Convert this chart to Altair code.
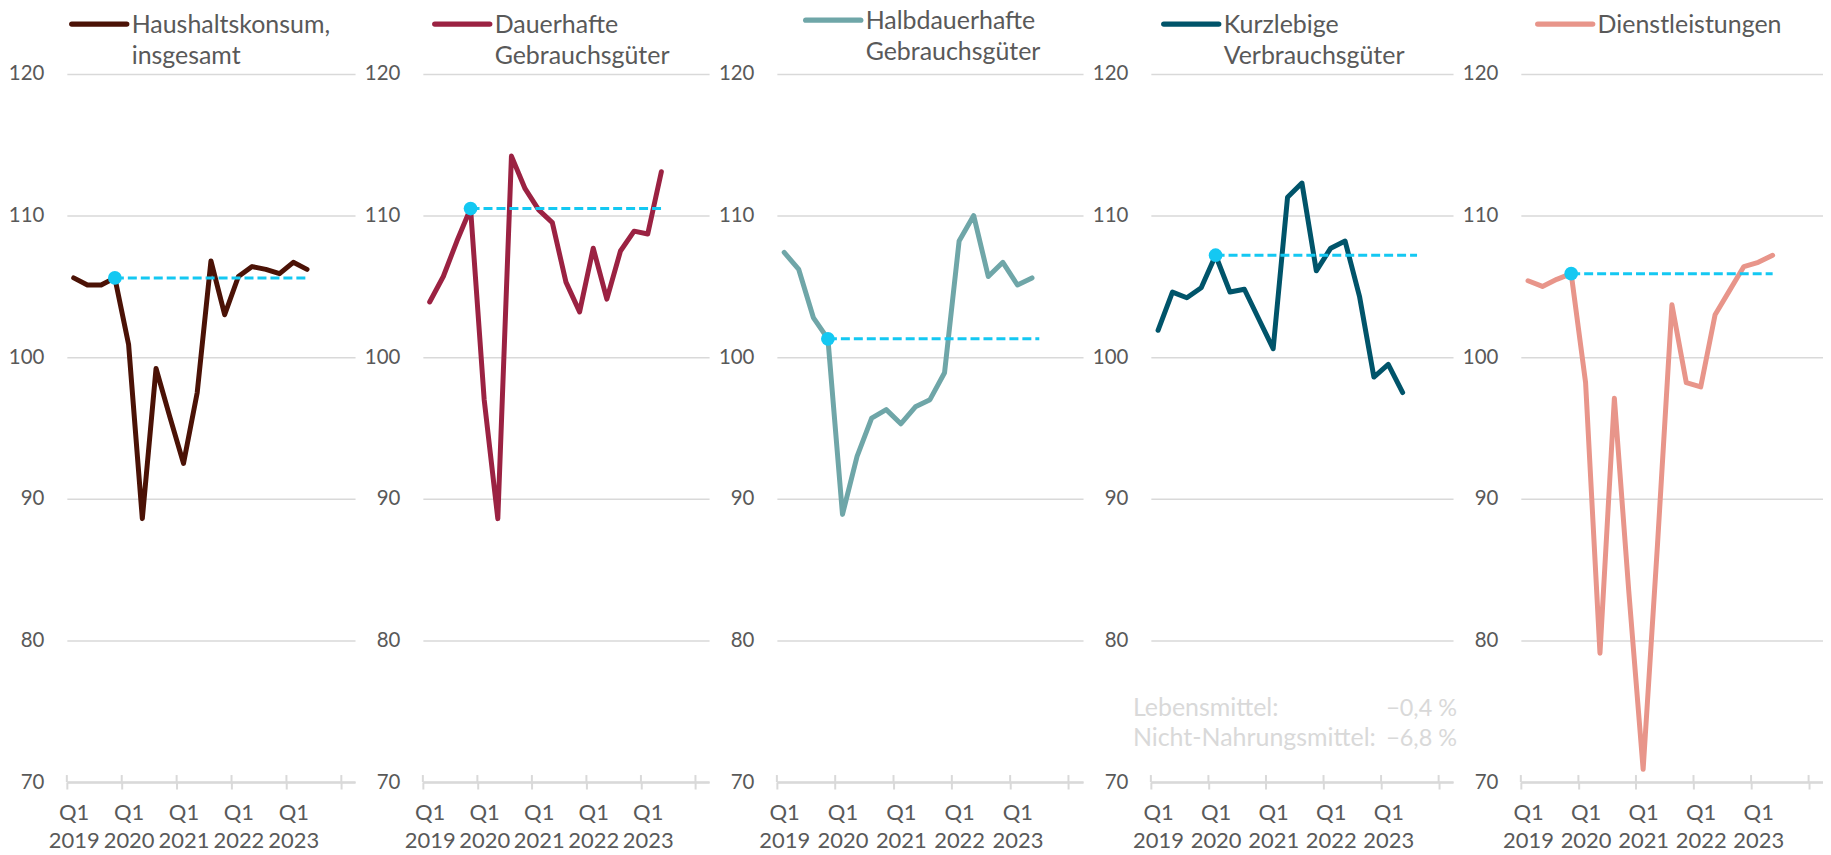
import altair as alt
import pandas as pd

# ---------------- data ----------------
quarters = ["Q1 2019", "Q2 2019", "Q3 2019", "Q4 2019",
            "Q1 2020", "Q2 2020", "Q3 2020", "Q4 2020",
            "Q1 2021", "Q2 2021", "Q3 2021", "Q4 2021",
            "Q1 2022", "Q2 2022", "Q3 2022", "Q4 2022",
            "Q1 2023", "Q2 2023", "Q3 2023", "Q4 2023",
            "Q1 2024"]
year_labels = ["2019", "2020", "2021", "2022", "2023"]
tick_positions = [0, 4, 8, 12, 16, 20]

names = [["Haushaltskonsum,", "insgesamt"],
         ["Dauerhafte", "Gebrauchsgüter"],
         ["Halbdauerhafte", "Gebrauchsgüter"],
         ["Kurzlebige", "Verbrauchsgüter"],
         ["Dienstleistungen"]]
colors = ["#4B1206", "#9B2242", "#6FA6A8", "#00546A", "#E8958A"]

haushalt = [105.6, 105.1, 105.1, 105.6, 100.9, 88.6, 99.2, 95.8, 92.5,
            97.5, 106.8, 103.0, 105.7, 106.4, 106.2, 105.9, 106.7, 106.2]
dauerhaft = [103.9, 105.7, 108.2, 110.5, 97.0, 88.6, 114.2, 111.9, 110.4,
             109.5, 105.3, 103.2, 107.7, 104.1, 107.5, 108.9, 108.7, 113.1]
halbdauer = [107.4, 106.2, 102.8, 101.3, 88.9, 93.0, 95.7, 96.3, 95.3,
             96.5, 97.0, 98.9, 108.2, 110.0, 105.7, 106.7, 105.1, 105.6]
kurzlebig = [101.9, 104.6, 104.2, 104.9, 107.2, 104.6, 104.8, 102.7, 100.6,
             111.3, 112.3, 106.1, 107.7, 108.2, 104.3, 98.6, 99.5, 97.5]
dienst = [105.4, 105.0, 105.5, 105.9, 98.2, 79.1, 97.1, 83.5, 70.9,
          86.8, 103.7, 98.2, 97.9, 103.0, 104.7, 106.4, 106.7, 107.2]
series = [haushalt, dauerhaft, halbdauer, kurzlebig, dienst]

ref_start = [3, 3, 3, 4, 3]          # quarter index of the reference point
ref_end = [17, 17, 17.5, 18, 17]     # end of the dashed reference line

note_left = ["Lebensmittel:", "Nicht-Nahrungsmittel:"]
note_right = ["\u22120,4 %", "\u22126,8 %"]

# ---------------- styles ----------------
GRID = "#D9D9D9"
TXT = "#595959"
REF = "#14C8F2"
FONT = "Lato"
widths = [289, 287, 307, 303, 303]
H = 710
legend_x = [5, 12, 29, 13, 17]
legend_dy = [0, 0, -4, 0, 0]

label_expr = ("datum.value < 20 ? ['Q1', [" +
              ",".join("'%s'" % y for y in year_labels) +
              "][datum.value / 4]] : ''")


def panel(i):
    W = widths[i]
    vals = series[i]
    df = pd.DataFrame({"pos": [k + 0.5 for k in range(len(vals))],
                       "value": vals,
                       "quarter": quarters[:len(vals)]})
    xscale = alt.Scale(domain=[0, 21], nice=False, zero=False)
    yscale = alt.Scale(domain=[70, 120], nice=False, zero=False)
    xaxis = alt.Axis(values=tick_positions, labelExpr=label_expr,
                     labelOffset=W / 21 / 2, labelFlush=False,
                     labelOverlap=False, grid=False, domainColor=GRID,
                     domainWidth=2.5, tickColor=GRID, tickWidth=2,
                     tickSize=7, labelPadding=14, labelLineHeight=28,
                     labelFontSize=22, labelColor=TXT, labelFont=FONT,
                     labelBaseline="top", title=None)
    yaxis = alt.Axis(values=[70, 80, 90, 100, 110, 120], grid=True,
                     gridColor=GRID, gridWidth=1.5, domain=False,
                     ticks=False, tickSize=0, labelPadding=23,
                     labelFontSize=20.5, labelColor=TXT, labelFont=FONT,
                     title=None)

    def X(field):
        return alt.X(field, type="quantitative", scale=xscale, axis=xaxis)

    def Y(field):
        return alt.Y(field, type="quantitative", scale=yscale, axis=yaxis)

    line = alt.Chart(df).mark_line(
        color=colors[i], strokeWidth=5, strokeJoin="round", strokeCap="round"
    ).encode(x=X("pos"), y=Y("value"))

    ref_df = pd.DataFrame({"x": [ref_start[i] + 0.5], "x2": [ref_end[i] + 0.5],
                           "y": [vals[ref_start[i]]]})
    ref = alt.Chart(ref_df).mark_rule(
        color=REF, strokeWidth=3, strokeDash=[9, 4]
    ).encode(x=X("x"), x2="x2", y=Y("y"))
    dot = alt.Chart(ref_df).mark_circle(
        color=REF, size=190, opacity=1
    ).encode(x=X("x"), y=Y("y"))

    ticks_df = pd.DataFrame({"t": tick_positions})
    upticks = alt.Chart(ticks_df).mark_rule(
        color=GRID, strokeWidth=2
    ).encode(x=X("t"), y=alt.value(H), y2=alt.value(H - 7))

    leg_df = pd.DataFrame({"label": [names[i]]})
    lx = legend_x[i]
    dy = legend_dy[i]
    sym = alt.Chart(leg_df).mark_rule(
        color=colors[i], strokeWidth=5.5, strokeCap="round"
    ).encode(x=alt.value(lx), x2=alt.value(lx + 55), y=alt.value(-50 + dy))
    txt = alt.Chart(leg_df).mark_text(
        align="left", baseline="alphabetic", fontSize=25, font=FONT,
        color=TXT, lineHeight=31
    ).encode(x=alt.value(lx + 60), y=alt.value(-41 + dy), text="label:N")

    layers = [upticks, line, ref, dot, sym, txt]

    if i == 3:
        nl = pd.DataFrame({"label": [note_left]})
        nr = pd.DataFrame({"label": [note_right]})
        t1 = alt.Chart(nl).mark_text(
            align="left", baseline="alphabetic", fontSize=25, font=FONT,
            color=GRID, lineHeight=30
        ).encode(x=alt.value(-18), y=alt.value(644), text="label:N")
        t2 = alt.Chart(nr).mark_text(
            align="right", baseline="alphabetic", fontSize=23.5, font=FONT,
            color=GRID, lineHeight=30
        ).encode(x=alt.value(W + 4), y=alt.value(644), text="label:N")
        layers += [t1, t2]

    return alt.layer(*layers).properties(width=W, height=H)


chart = alt.hconcat(
    *[panel(i) for i in range(5)], spacing=68, bounds="flush"
).configure(
    font=FONT, view=alt.ViewConfig(stroke=None)
).properties(
    padding={"left": 0, "top": 0, "right": 0, "bottom": 0}
)

chart.save("out.html", embed_options={"renderer": "svg", "actions": False})
